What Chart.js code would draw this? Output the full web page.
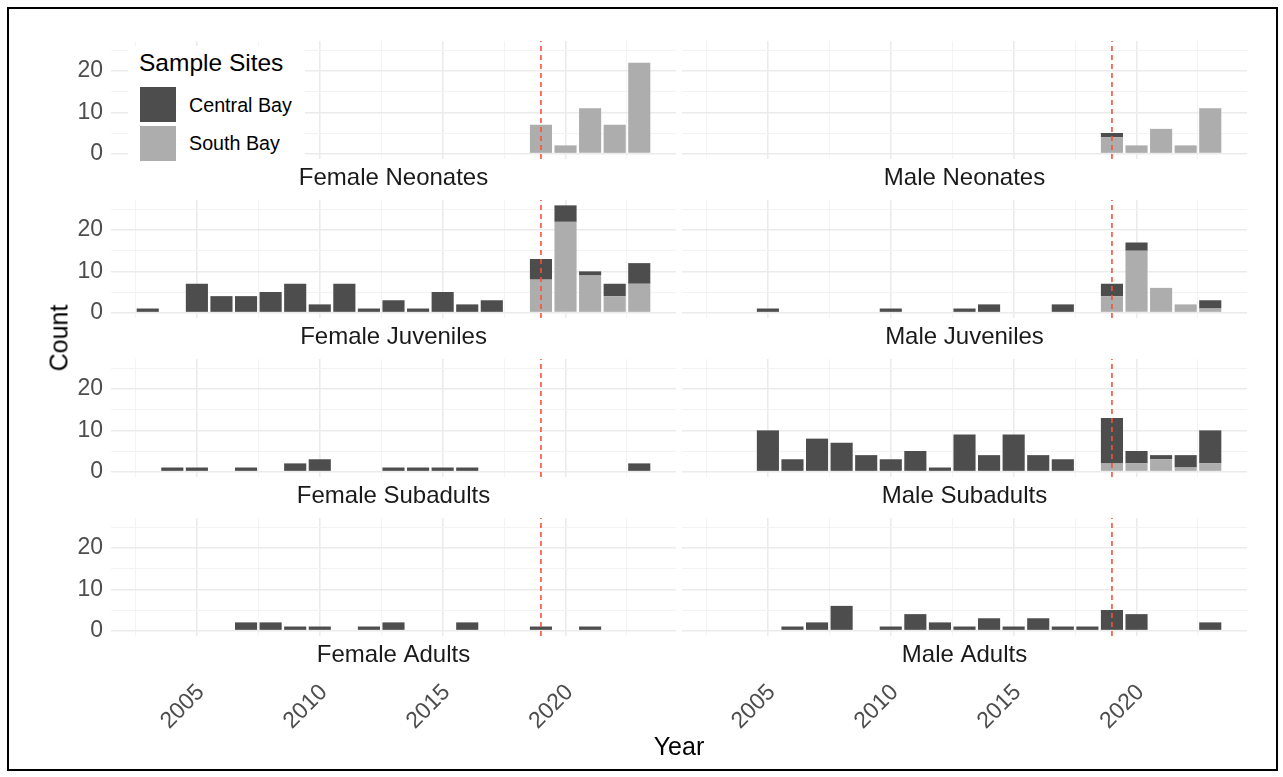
<!DOCTYPE html>
<html>
<head>
<meta charset="utf-8">
<title>Sample counts by year</title>
<script src="https://cdn.jsdelivr.net/npm/chart.js@4.4.1/dist/chart.umd.min.js"></script>
<style>
  html, body { margin: 0; padding: 0; background: #ffffff; }
  body {
    width: 1283px; height: 777px; position: relative; overflow: hidden;
    font-family: "Liberation Sans", Arial, Helvetica, sans-serif;
  }
  #frame {
    position: absolute; left: 7px; top: 7px; width: 1271px; height: 764px;
    border: 2px solid #000; box-sizing: border-box;
  }
  canvas { position: absolute; }
  #legend {
    position: absolute; left: 128px; top: 46px; width: 177px; height: 120px;
    background: #ffffff;
  }
  #legend .ltitle {
    position: absolute; left: 11px; top: 5px; font-size: 24.5px; line-height: 24.5px;
    color: #000; white-space: nowrap;
  }
  #legend .key { position: absolute; left: 12px; width: 36px; height: 35px; }
  #legend .ltext {
    position: absolute; left: 61px; font-size: 19.7px; line-height: 19.7px;
    color: #000; white-space: nowrap;
  }
  .axtitle { position: absolute; font-size: 25px; line-height: 25px; color: #000; white-space: nowrap; }
  #xtitle { left: 679px; top: 734px; transform: translateX(-50%); }
  #ytitle { left: 58.5px; top: 338px; transform: translate(-50%, -50%) rotate(-90deg); }
</style>
</head>
<body>
<div id="frame"></div>
<div id="plots"></div>
<div id="legend">
  <div class="ltitle">Sample Sites</div>
  <div class="key" id="key0" style="top:41px"></div>
  <div class="ltext" style="top:50px">Central Bay</div>
  <div class="key" id="key1" style="top:80px"></div>
  <div class="ltext" style="top:88px">South Bay</div>
</div>
<div class="axtitle" id="ytitle">Count</div>
<div class="axtitle" id="xtitle">Year</div>

<script>
// ---- data -------------------------------------------------------------
const years = [2003, 2004, 2005, 2006, 2007, 2008, 2009, 2010, 2011, 2012, 2013,
               2014, 2015, 2016, 2017, 2018, 2019, 2020, 2021, 2022, 2023];

const siteNames  = ['Central Bay', 'South Bay'];
const siteColors = ['#4D4D4D', '#ADADAD'];

const panelNames = ['Female Neonates', 'Male Neonates',
                    'Female Juveniles', 'Male Juveniles',
                    'Female Subadults', 'Male Subadults',
                    'Female Adults', 'Male Adults'];

// counts per year (2003 ... 2023)
const femaleNeonatesCentral  = [0,0,0,0,0,0,0,0,0,0,0,0,0,0,0,0,0,0,0,0,0];
const femaleNeonatesSouth    = [0,0,0,0,0,0,0,0,0,0,0,0,0,0,0,0,7,2,11,7,22];
const maleNeonatesCentral    = [0,0,0,0,0,0,0,0,0,0,0,0,0,0,0,0,1,0,0,0,0];
const maleNeonatesSouth      = [0,0,0,0,0,0,0,0,0,0,0,0,0,0,0,0,4,2,6,2,11];
const femaleJuvenilesCentral = [1,0,7,4,4,5,7,2,7,1,3,1,5,2,3,0,5,4,1,3,5];
const femaleJuvenilesSouth   = [0,0,0,0,0,0,0,0,0,0,0,0,0,0,0,0,8,22,9,4,7];
const maleJuvenilesCentral   = [0,0,1,0,0,0,0,1,0,0,1,2,0,0,2,0,3,2,0,0,2];
const maleJuvenilesSouth     = [0,0,0,0,0,0,0,0,0,0,0,0,0,0,0,0,4,15,6,2,1];
const femaleSubadultsCentral = [0,1,1,0,1,0,2,3,0,0,1,1,1,1,0,0,0,0,0,0,2];
const femaleSubadultsSouth   = [0,0,0,0,0,0,0,0,0,0,0,0,0,0,0,0,0,0,0,0,0];
const maleSubadultsCentral   = [0,0,10,3,8,7,4,3,5,1,9,4,9,4,3,0,11,3,1,3,8];
const maleSubadultsSouth     = [0,0,0,0,0,0,0,0,0,0,0,0,0,0,0,0,2,2,3,1,2];
const femaleAdultsCentral    = [0,0,0,0,2,2,1,1,0,1,2,0,0,2,0,0,1,0,1,0,0];
const femaleAdultsSouth      = [0,0,0,0,0,0,0,0,0,0,0,0,0,0,0,0,0,0,0,0,0];
const maleAdultsCentral      = [0,0,0,1,2,6,0,1,4,2,1,3,1,3,1,1,5,4,0,0,2];
const maleAdultsSouth        = [0,0,0,0,0,0,0,0,0,0,0,0,0,0,0,0,0,0,0,0,0];

const panelCentral = [femaleNeonatesCentral, maleNeonatesCentral, femaleJuvenilesCentral,
                      maleJuvenilesCentral, femaleSubadultsCentral, maleSubadultsCentral,
                      femaleAdultsCentral, maleAdultsCentral];
const panelSouth   = [femaleNeonatesSouth, maleNeonatesSouth, femaleJuvenilesSouth,
                      maleJuvenilesSouth, femaleSubadultsSouth, maleSubadultsSouth,
                      femaleAdultsSouth, maleAdultsSouth];

// reference year marked by the dashed line
const markerYear = 2019;

// axis breaks
const xGridBreaks = [2002.5, 2005, 2007.5, 2010, 2012.5, 2015, 2017.5, 2020, 2022.5];
const xTickLabels = [2005, 2010, 2015, 2020];
const yGridBreaks = [0, 5, 10, 15, 20, 25];
const yTickLabels = [0, 10, 20];

// axis limits (bar extent plus 5% padding on each side)
const xMin = 2001.505, xMax = 2024.495;
const yMin = -1.3,     yMax = 27.3;

// ---- layout -------------------------------------------------------------
const FONT = '"Liberation Sans", Arial, Helvetica, sans-serif';
const plotWidth  = 565;
const plotHeight = 118;
const stripHeight = 41;
const yAxisWidth = 100;
const bottomAxisHeight = 62;
const colCanvasLeft = [11, 682];
const rowPlotTop = [41, 200, 359, 518];

const gridMajor = '#EBEBEB', gridMinor = '#F3F3F3';

document.getElementById('key0').style.background = siteColors[0];
document.getElementById('key1').style.background = siteColors[1];

function makePanel(p) {
  const col = p % 2, row = Math.floor(p / 2);
  const isLeft = col === 0, isBottom = row === 3;
  const canvas = document.createElement('canvas');
  const w = (isLeft ? yAxisWidth : 0) + plotWidth;
  const h = plotHeight + stripHeight + (isBottom ? bottomAxisHeight : 0);
  canvas.width = w; canvas.height = h;
  canvas.style.left = colCanvasLeft[col] + 'px';
  canvas.style.top = rowPlotTop[row] + 'px';
  canvas.style.width = w + 'px'; canvas.style.height = h + 'px';
  document.getElementById('plots').appendChild(canvas);

  const scales = {
    x: {
      type: 'linear', min: xMin, max: xMax, offset: false, weight: 0, stacked: true,
      grid: {
        offset: false, drawTicks: false,
        color: c => (c.tick && c.tick.value % 5 === 0) ? gridMajor : gridMinor,
        lineWidth: c => (c.tick && c.tick.value % 5 === 0) ? 1.6 : 1
      },
      border: { display: false },
      ticks: { display: false, autoSkip: false },
      afterBuildTicks: s => { s.ticks = xGridBreaks.map(v => ({ value: v })); },
      title: {
        display: true, text: panelNames[p], color: '#1A1A1A',
        font: { family: FONT, size: 24 }, padding: { top: 0, bottom: 7 }
      },
      afterFit: s => { s.height = stripHeight; s.paddingLeft = 0; s.paddingRight = 0; }
    },
    y: {
      type: 'linear', min: yMin, max: yMax, stacked: true,
      grid: {
        drawTicks: false,
        color: c => (c.tick && c.tick.value % 10 === 0) ? gridMajor : gridMinor,
        lineWidth: c => (c.tick && c.tick.value % 10 === 0) ? 1.6 : 1
      },
      border: { display: false },
      afterBuildTicks: s => { s.ticks = yGridBreaks.map(v => ({ value: v })); },
      ticks: {
        display: isLeft, autoSkip: false, padding: 8, color: '#4D4D4D',
        font: { family: FONT, size: 23 },
        callback: v => yTickLabels.includes(v) ? String(v) : ''
      },
      afterFit: s => {
        s.width = isLeft ? yAxisWidth : 0;
        s.paddingTop = 0; s.paddingBottom = 0;
      }
    }
  };

  if (isBottom) {
    scales.x2 = {
      type: 'linear', position: 'bottom', min: xMin, max: xMax, offset: false, weight: 1,
      grid: { display: false, drawTicks: false },
      border: { display: false },
      afterBuildTicks: s => { s.ticks = xTickLabels.map(v => ({ value: v })); },
      ticks: {
        autoSkip: false, minRotation: 45, maxRotation: 45, padding: 2, labelOffset: 4,
        color: '#4D4D4D', font: { family: FONT, size: 23 },
        callback: v => String(v)
      },
      afterFit: s => { s.height = bottomAxisHeight; s.paddingLeft = 0; s.paddingRight = 0; }
    };
  }

  const barStyle = { categoryPercentage: 0.9, barPercentage: 1, borderWidth: 0, order: 1,
                     stack: 'sites', xAxisID: 'x', yAxisID: 'y' };

  new Chart(canvas, {
    data: {
      labels: years,
      datasets: [
        Object.assign({ type: 'bar', label: siteNames[1], data: panelSouth[p],
                        backgroundColor: siteColors[1] }, barStyle),
        Object.assign({ type: 'bar', label: siteNames[0], data: panelCentral[p],
                        backgroundColor: siteColors[0] }, barStyle),
        {
          type: 'line', label: 'marker', order: 0, stack: 'marker',
          xAxisID: 'x', yAxisID: 'y',
          data: [{ x: markerYear, y: yMin }, { x: markerYear, y: yMax }],
          borderColor: '#F5533A', borderWidth: 1.6, borderDash: [5, 4],
          pointRadius: 0, tension: 0, fill: false
        }
      ]
    },
    options: {
      responsive: false, animation: false, devicePixelRatio: 1,
      layout: { padding: 0 },
      scales: scales,
      plugins: { legend: { display: false }, tooltip: { enabled: false }, title: { display: false } }
    }
  });
}

for (let p = 0; p < panelNames.length; p++) makePanel(p);
// keep the legend above the first panel
document.body.appendChild(document.getElementById('legend'));
</script>
</body>
</html>
